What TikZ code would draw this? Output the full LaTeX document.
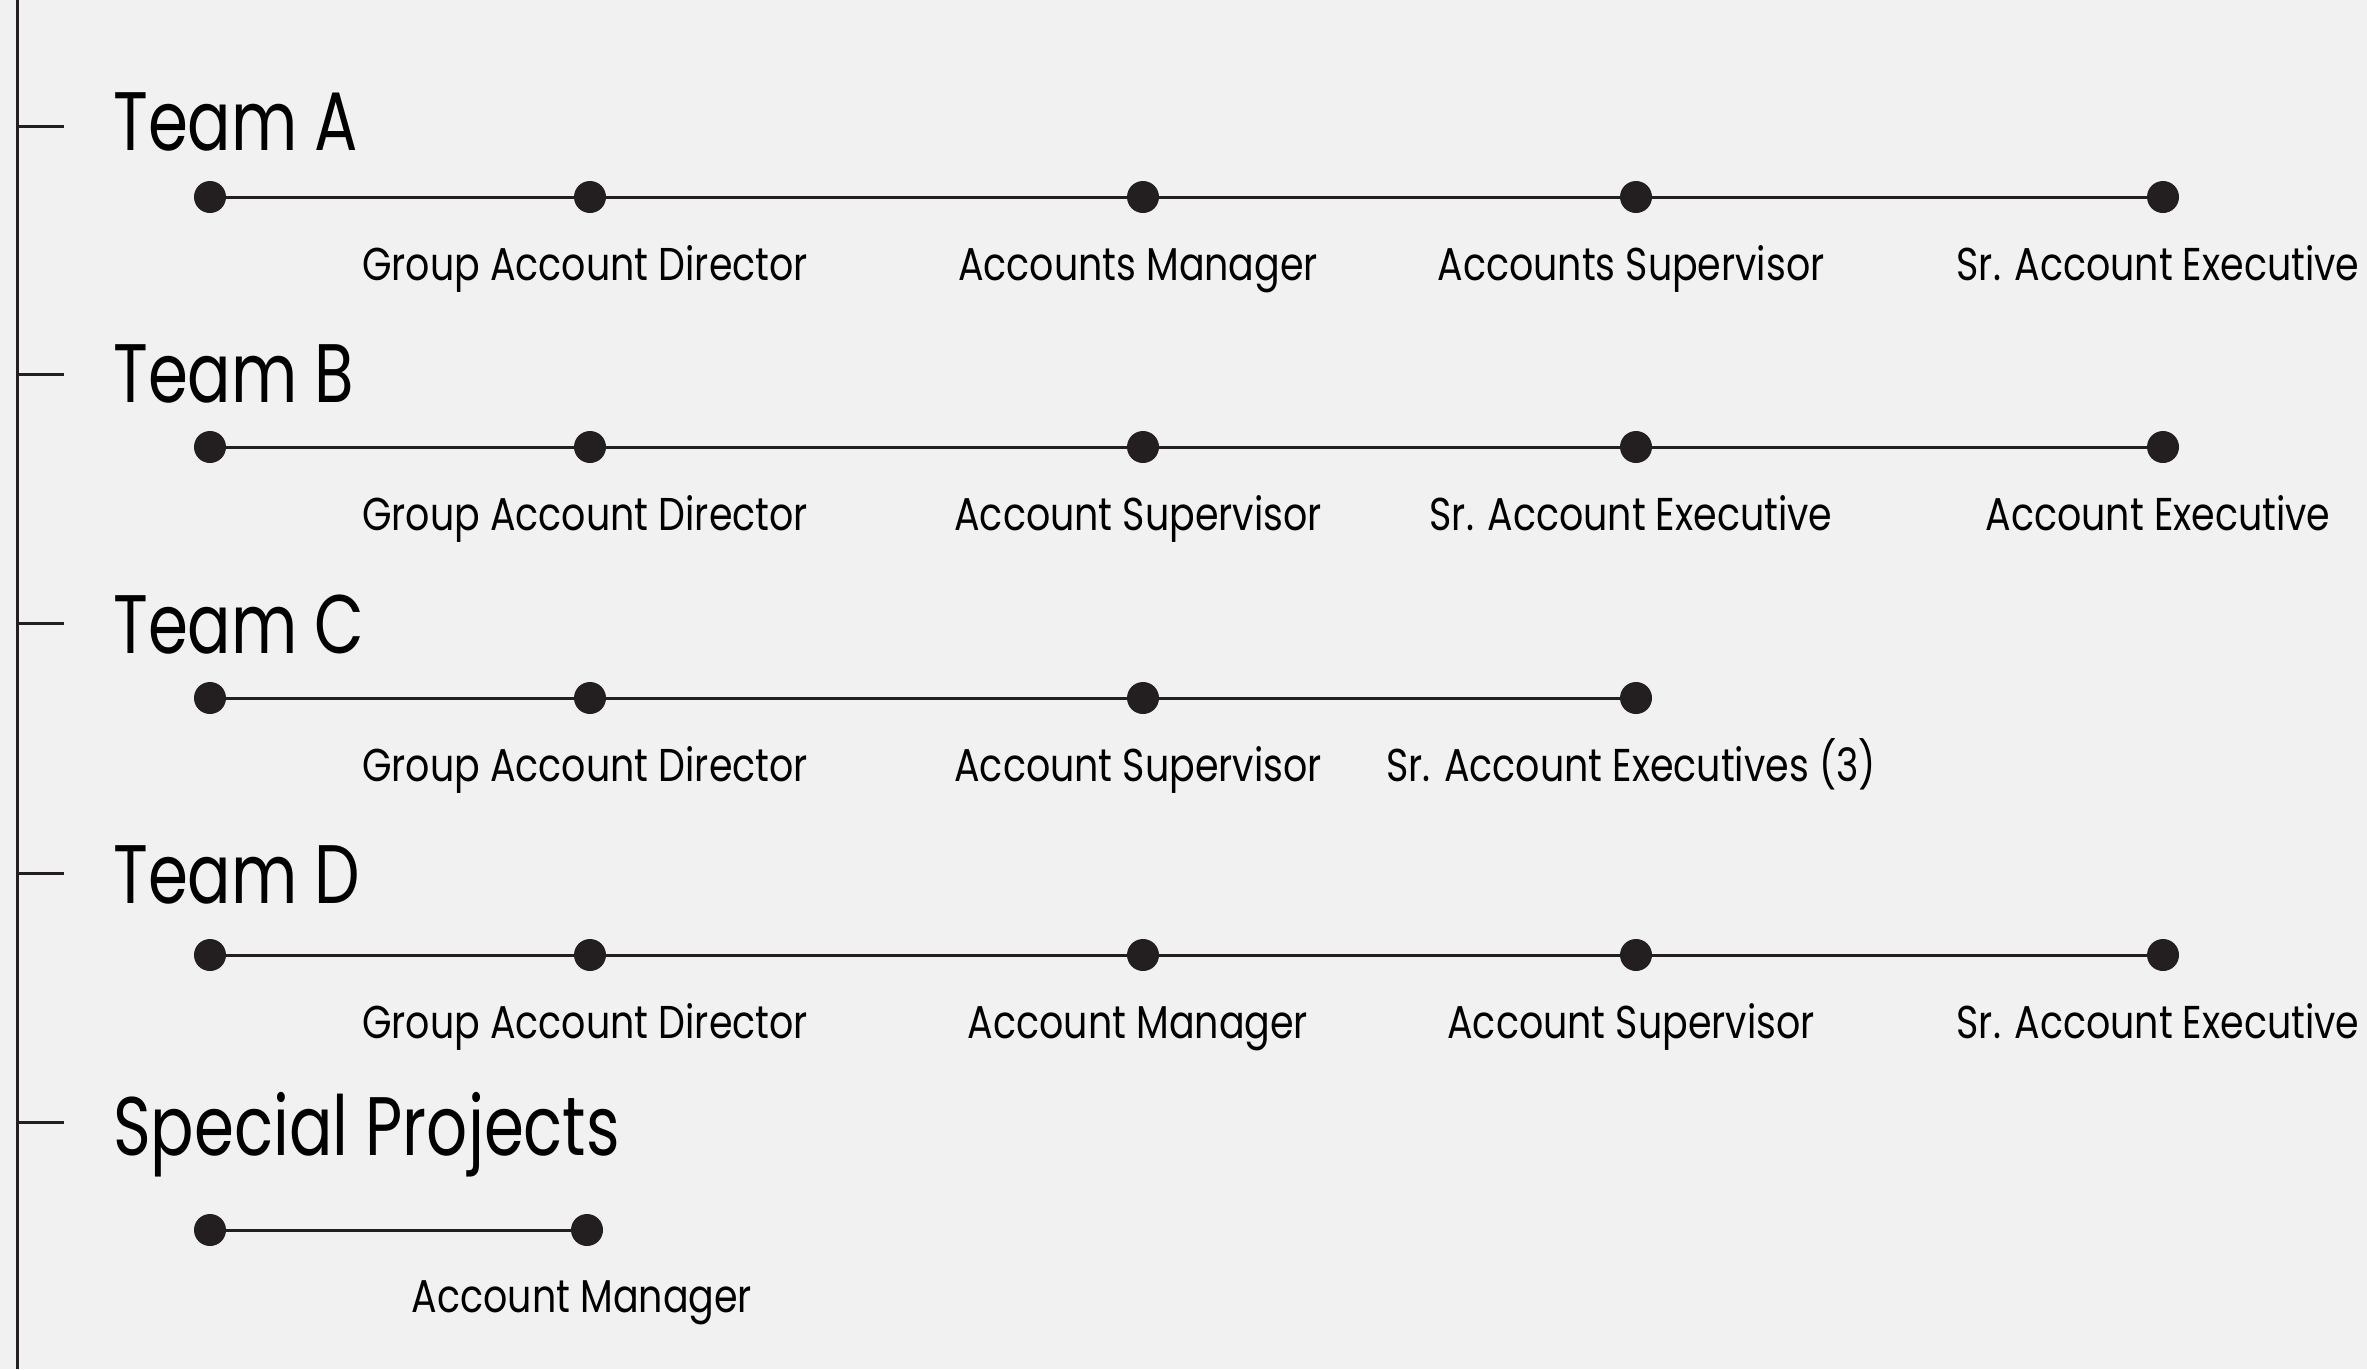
\documentclass[tikz,border=0pt]{standalone}
\usepackage{fontspec}
\setmainfont{Poppins}[FakeStretch=0.825]
\newfontfamily\titlefont{Poppins}[FakeStretch=0.775]
\definecolor{ink}{HTML}{231F20}
\definecolor{bg}{HTML}{F1F1F1}
\begin{document}
\begin{tikzpicture}[x=1pt,y=-1pt,
  dot/.style={circle,fill=ink,minimum size=32pt,inner sep=0pt},
  link/.style={draw=ink,line width=3pt},
  rail/.style={draw=ink,line width=3pt},
  title/.style={anchor=base west,inner sep=0pt,font=\titlefont\fontsize{83}{90}\selectfont},
  role/.style={anchor=base,inner sep=0pt,xshift=-5pt,font=\fontsize{46}{50}\selectfont}]
\fill[bg] (0,0) rectangle (2367,1369);
\useasboundingbox (0,0) rectangle (2367,1369);
\coordinate (top) at (17,0);
\coordinate (bot) at (17,1369);
\draw[rail] (top) -- (bot);
% ticks
\foreach \t/\y in {tA/126,tB/374,tC/623,tD/873,tS/1122}{
  \coordinate (\t) at (17,\y);
  \draw[rail] (\t) -- ++(47,0);
}
% Team A
\node[title] (TA) at (113,150) {Team A};
\node[dot] (a1) at (210,197) {};
\node[dot] (a2) at (590,197) {};
\node[dot] (a3) at (1143,197) {};
\node[dot] (a4) at (1636,197) {};
\node[dot] (a5) at (2163,197) {};
\draw[link] (a1) -- (a2) -- (a3) -- (a4) -- (a5);
\node[role] (la2) at (590,280) {Group Account Director};
\node[role] (la3) at (1143,280) {Accounts Manager};
\node[role] (la4) at (1636,280) {Accounts Supervisor};
\node[role] (la5) at (2163,280) {Sr. Account Executive};
% Team B
\node[title] (TB) at (113,402) {Team B};
\node[dot] (b1) at (210,447) {};
\node[dot] (b2) at (590,447) {};
\node[dot] (b3) at (1143,447) {};
\node[dot] (b4) at (1636,447) {};
\node[dot] (b5) at (2163,447) {};
\draw[link] (b1) -- (b2) -- (b3) -- (b4) -- (b5);
\node[role] (lb2) at (590,530) {Group Account Director};
\node[role] (lb3) at (1143,530) {Account Supervisor};
\node[role] (lb4) at (1636,530) {Sr. Account Executive};
\node[role] (lb5) at (2163,530) {Account Executive};
% Team C
\node[title] (TC) at (113,653) {Team C};
\node[dot] (c1) at (210,698) {};
\node[dot] (c2) at (590,698) {};
\node[dot] (c3) at (1143,698) {};
\node[dot] (c4) at (1636,698) {};
\draw[link] (c1) -- (c2) -- (c3) -- (c4);
\node[role] (lc2) at (590,781) {Group Account Director};
\node[role] (lc3) at (1143,781) {Account Supervisor};
\node[role] (lc4) at (1636,781) {Sr. Account Executives (3)};
% Team D
\node[title] (TD) at (113,903) {Team D};
\node[dot] (d1) at (210,955) {};
\node[dot] (d2) at (590,955) {};
\node[dot] (d3) at (1143,955) {};
\node[dot] (d4) at (1636,955) {};
\node[dot] (d5) at (2163,955) {};
\draw[link] (d1) -- (d2) -- (d3) -- (d4) -- (d5);
\node[role] (ld2) at (590,1038) {Group Account Director};
\node[role] (ld3) at (1143,1038) {Account Manager};
\node[role] (ld4) at (1636,1038) {Account Supervisor};
\node[role] (ld5) at (2163,1038) {Sr. Account Executive};
% Special Projects
\node[title] (TS) at (113,1155) {Special Projects};
\node[dot] (s1) at (210,1230) {};
\node[dot] (s2) at (587,1230) {};
\draw[link] (s1) -- (s2);
\node[role] (ls2) at (587,1312) {Account Manager};
\end{tikzpicture}
\end{document}
